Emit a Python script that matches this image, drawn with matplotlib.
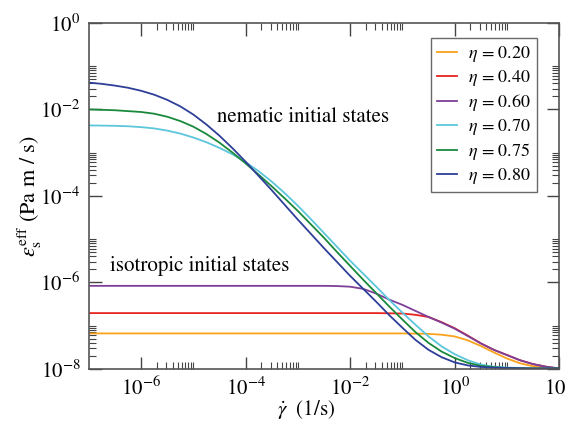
import numpy as np
import matplotlib
matplotlib.use("Agg")
import matplotlib.pyplot as plt
from matplotlib.ticker import FixedLocator, NullFormatter

plt.rcParams['font.family'] = 'STIXGeneral'
plt.rcParams['mathtext.fontset'] = 'stix'

# values, stored as log10(gamma_dot) and log10(eps)
lx_nem = [-7, -6.75, -6.5, -6.25, -6, -5.75, -5.5, -5.25, -5, -4.75, -4.5, -4.25, -4, -3.75, -3.5, -3.25,
          -3, -2.75, -2.5, -2.25, -2, -1.75, -1.5, -1.25, -1, -0.75, -0.5, -0.25, 0, 0.25, 0.5, 0.75, 1, 1.5, 2]
ly_080 = [-1.38, -1.41, -1.45, -1.50, -1.57, -1.66, -1.78, -1.93, -2.12, -2.35, -2.61, -2.90, -3.21, -3.54, -3.87, -4.21,
          -4.55, -4.88, -5.21, -5.53, -5.85, -6.15, -6.45, -6.76, -7.05, -7.33, -7.56, -7.73, -7.85, -7.92, -7.955, -7.97, -7.98, -7.99, -7.99]
ly_075 = [-2.00, -2.01, -2.02, -2.04, -2.06, -2.10, -2.17, -2.27, -2.40, -2.57, -2.77, -3.00, -3.25, -3.51, -3.78, -4.06,
          -4.35, -4.66, -4.97, -5.30, -5.62, -5.94, -6.25, -6.56, -6.86, -7.15, -7.40, -7.60, -7.75, -7.86, -7.93, -7.96, -7.98, -7.99, -7.99]
ly_070 = [-2.37, -2.375, -2.38, -2.39, -2.41, -2.44, -2.49, -2.56, -2.65, -2.76, -2.89, -3.04, -3.22, -3.43, -3.67, -3.94,
          -4.23, -4.54, -4.86, -5.18, -5.50, -5.80, -6.10, -6.41, -6.70, -6.98, -7.25, -7.48, -7.66, -7.80, -7.90, -7.95, -7.97, -7.99, -7.99]

lx_iso = [-7, -6, -5, -4, -3, -2.5, -2.25, -2, -1.75, -1.5, -1.25, -1, -0.75, -0.5, -0.25, 0, 0.25, 0.5, 0.75, 1, 1.25, 1.5, 1.75, 2]
ly_060 = [-6.08, -6.08, -6.08, -6.08, -6.08, -6.08, -6.085, -6.10, -6.15, -6.26, -6.40, -6.52, -6.66, -6.80, -6.93, -7.07, -7.24, -7.41, -7.56, -7.68, -7.80, -7.89, -7.95, -7.99]
ly_040 = [-6.71, -6.71, -6.71, -6.71, -6.71, -6.71, -6.71, -6.71, -6.71, -6.71, -6.715, -6.72, -6.75, -6.80, -6.92, -7.06, -7.23, -7.41, -7.56, -7.68, -7.80, -7.89, -7.95, -7.99]
ly_020 = [-7.18, -7.18, -7.18, -7.18, -7.18, -7.18, -7.18, -7.18, -7.18, -7.18, -7.18, -7.18, -7.185, -7.19, -7.21, -7.25, -7.34, -7.47, -7.62, -7.76, -7.87, -7.94, -7.98, -7.99]

curves = [
    (lx_iso, ly_020, '#f9a31b', r'$\eta$ = 0.20'),
    (lx_iso, ly_040, '#e8231f', r'$\eta$ = 0.40'),
    (lx_iso, ly_060, '#7d3f98', r'$\eta$ = 0.60'),
    (lx_nem, ly_070, '#5cc6dc', r'$\eta$ = 0.70'),
    (lx_nem, ly_075, '#19893b', r'$\eta$ = 0.75'),
    (lx_nem, ly_080, '#2d3f98', r'$\eta$ = 0.80'),
]

fig = plt.figure(figsize=(5.66, 4.24), dpi=100)
ax = fig.add_axes([0.157, 0.130, 0.831, 0.816])

for lx, ly, c, lab in curves:
    ax.plot(10.0**np.array(lx), 10.0**np.array(ly), color=c, lw=1.3, label=lab)

ax.set_xscale('log')
ax.set_yscale('log')
ax.set_xlim(1e-7, 1e2)
ax.set_ylim(1e-8, 1e0)

# major ticks every two decades, minor ticks k*10^even (k=2..10)
ax.xaxis.set_major_locator(FixedLocator([10.0**e for e in range(-6, 3, 2)]))
ax.xaxis.set_minor_locator(FixedLocator([k * 10.0**e for e in range(-6, 2, 2) for k in range(2, 11)]))
ax.yaxis.set_major_locator(FixedLocator([10.0**e for e in range(-8, 1, 2)]))
ax.yaxis.set_minor_locator(FixedLocator([k * 10.0**e for e in range(-8, 0, 2) for k in range(2, 11)]))
ax.xaxis.set_minor_formatter(NullFormatter())
ax.yaxis.set_minor_formatter(NullFormatter())

ax.tick_params(which='both', direction='in', top=True, right=True, colors='#444444', labelcolor='black')
ax.tick_params(which='major', length=9, width=1, labelsize=15, pad=6)
ax.tick_params(which='minor', length=5, width=0.8)
for s in ax.spines.values():
    s.set_color('#555555')
    s.set_linewidth(1.2)

ax.set_xlabel(r'$\dot{\gamma}$  (1/s)', fontsize=15)
ax.xaxis.set_label_coords(0.462, -0.085)
ax.set_ylabel(r'$\varepsilon_{\rm s}^{\rm eff}$ (Pa m / s)', fontsize=16)
ax.yaxis.set_label_coords(-0.095, 0.5)

ax.text(10**-4.55, 10**-2.17, 'nematic initial states', fontsize=15, va='center')
ax.text(10**-6.6, 10**-5.62, 'isotropic initial states', fontsize=15, va='center')

leg = ax.legend(loc='upper right', bbox_to_anchor=(0.953, 0.957), fontsize=13, fancybox=False,
                edgecolor='#444444', handlelength=1.1, handletextpad=0.6, borderaxespad=0.0,
                labelspacing=0.22, borderpad=0.35)
leg.get_frame().set_linewidth(1.0)

fig.savefig('out.png', dpi=100)
